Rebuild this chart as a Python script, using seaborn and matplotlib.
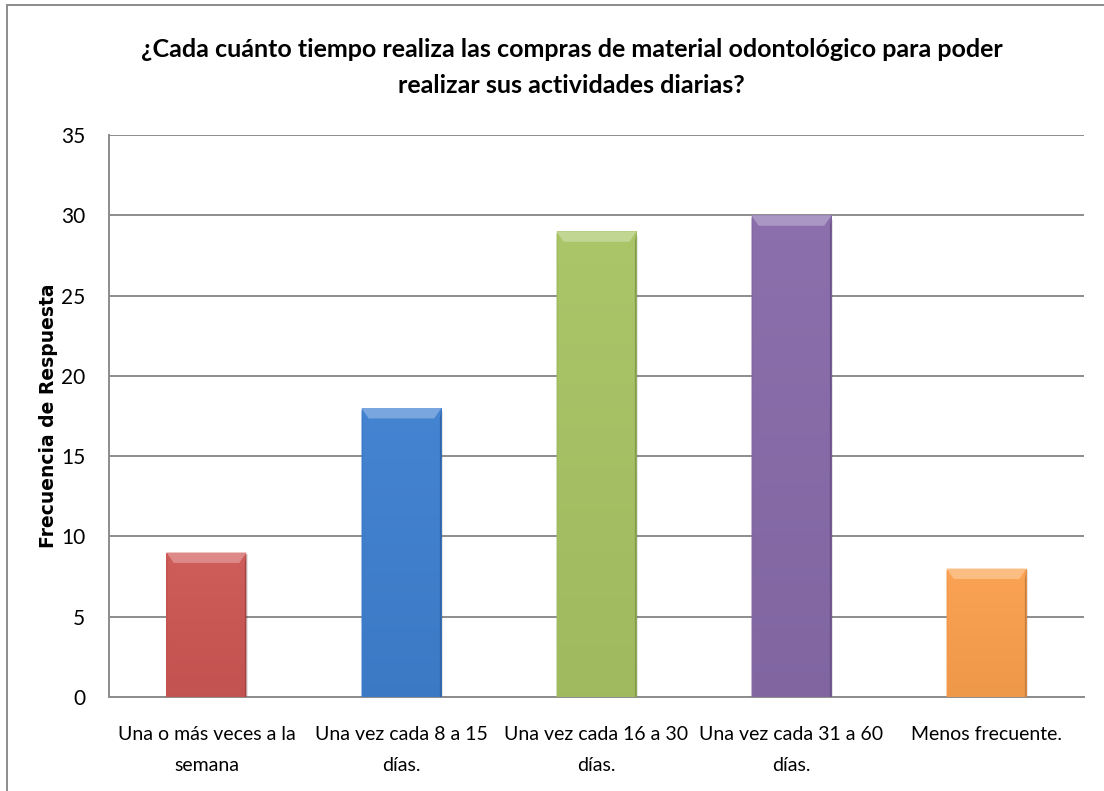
import matplotlib
matplotlib.use("Agg")
import matplotlib.pyplot as plt
from matplotlib.patches import Polygon, Rectangle
from matplotlib.lines import Line2D
import matplotlib.colors as mcolors
import numpy as np
import pandas as pd
import seaborn as sns

# Survey answers: how often dental supplies are purchased
categories = [
    "Una o más veces a la\nsemana",
    "Una vez cada 8 a 15\ndías.",
    "Una vez cada 16 a 30\ndías.",
    "Una vez cada 31 a 60\ndías.",
    "Menos frecuente.",
]
frequencies = [9, 18, 29, 30, 8]
bar_colors = ["#CD5754", "#3F80D0", "#A8C464", "#876BAA", "#FBA04E"]
y_ticks = [0, 5, 10, 15, 20, 25, 30, 35]

title = ("¿Cada cuánto tiempo realiza las compras de material odontológico para poder\n"
         "realizar sus actividades diarias?")
y_label = "Frecuencia de Respuesta"

sns.set_theme(style="white")
plt.rcParams["font.family"] = ["Lato", "DejaVu Sans"]

df = pd.DataFrame({"categoria": categories, "frecuencia": frequencies})

fig = plt.figure(figsize=(11.04, 7.91), dpi=100)
ax = fig.add_axes([0.0987, 0.1188, 0.8832, 0.7105])

sns.barplot(data=df, x="categoria", y="frecuencia", hue="categoria",
            palette=bar_colors, width=0.41, saturation=1, legend=False,
            linewidth=0, ax=ax, zorder=3)


def shade(color, factor):
    r, g, b = mcolors.to_rgb(color)
    if factor >= 1:
        f = factor - 1
        return (r + (1 - r) * f, g + (1 - g) * f, b + (1 - b) * f)
    return (r * factor, g * factor, b * factor)


# Bevelled look for each bar, built from the bar's own geometry
for patch, color in zip(ax.patches, bar_colors):
    x0, y0 = patch.get_x(), patch.get_y()
    w, h = patch.get_width(), patch.get_height()
    x1, y1 = x0 + w, y0 + h
    # soft drop shadow to the right
    ax.add_patch(Rectangle((x1, y0), w * 0.025, h * 0.99,
                           facecolor="#000000", alpha=0.10, lw=0, zorder=2))
    # gentle vertical gradient on the face
    grad = np.linspace(1.0, 0.0, 64).reshape(-1, 1)
    top_c = np.array(shade(color, 1.03))
    bot_c = np.array(shade(color, 0.95))
    img = top_c[None, None, :] * grad[..., None] + bot_c[None, None, :] * (1 - grad[..., None])
    im = ax.imshow(img, extent=(x0, x1, y0, y1), aspect="auto", zorder=3.5,
                   interpolation="bilinear")
    im.set_clip_path(patch)
    bx = w * 0.09
    by = min(0.65, h * 0.3)
    # top bevel (light)
    ax.add_patch(Polygon([(x0, y1), (x1, y1), (x1 - bx, y1 - by), (x0 + bx, y1 - by)],
                         closed=True, facecolor=shade(color, 1.30), lw=0, zorder=4))
    # left bevel
    ax.add_patch(Polygon([(x0, y1), (x0 + bx * 0.22, y1 - by), (x0 + bx * 0.22, y0), (x0, y0)],
                         closed=True, facecolor=shade(color, 0.96), lw=0, zorder=4))
    # right bevel (dark)
    ax.add_patch(Polygon([(x1, y1), (x1 - bx * 0.22, y1 - by), (x1 - bx * 0.22, y0), (x1, y0)],
                         closed=True, facecolor=shade(color, 0.78), lw=0, zorder=4))

ax.set_ylim(0, 35)
ax.set_yticks(y_ticks)
ax.set_xlim(-0.5, len(categories) - 0.5)
ax.yaxis.grid(True, color="#8C8C8C", linewidth=1.4, zorder=0)
ax.set_axisbelow(True)

for side in ["top", "right"]:
    ax.spines[side].set_visible(False)
for side in ["left", "bottom"]:
    ax.spines[side].set_color("#8C8C8C")
    ax.spines[side].set_linewidth(1.4)

ax.tick_params(axis="y", length=0, pad=17, labelsize=15, labelcolor="#000000")
ax.tick_params(axis="x", length=0, pad=21, labelsize=14, labelcolor="#000000")
for lbl in ax.get_xticklabels():
    lbl.set_linespacing(2.0)

ax.set_xlabel("")
ax.set_ylabel(y_label, fontsize=13.5, fontweight="bold", family="DejaVu Sans",
              labelpad=2, color="#000000")

fig.text(0.518, 0.915, title, ha="center", va="center", fontsize=18,
         fontweight="bold", linespacing=1.7, color="#000000")

# outer chart frame
fig.add_artist(Line2D([7 / 1104, 7 / 1104], [0, 1 - 5 / 791], transform=fig.transFigure,
                      color="#8C8C8C", linewidth=1.4))
fig.add_artist(Line2D([7 / 1104, 1], [1 - 5 / 791, 1 - 5 / 791], transform=fig.transFigure,
                      color="#8C8C8C", linewidth=1.4))

fig.savefig("out.png", dpi=100, facecolor="white")
